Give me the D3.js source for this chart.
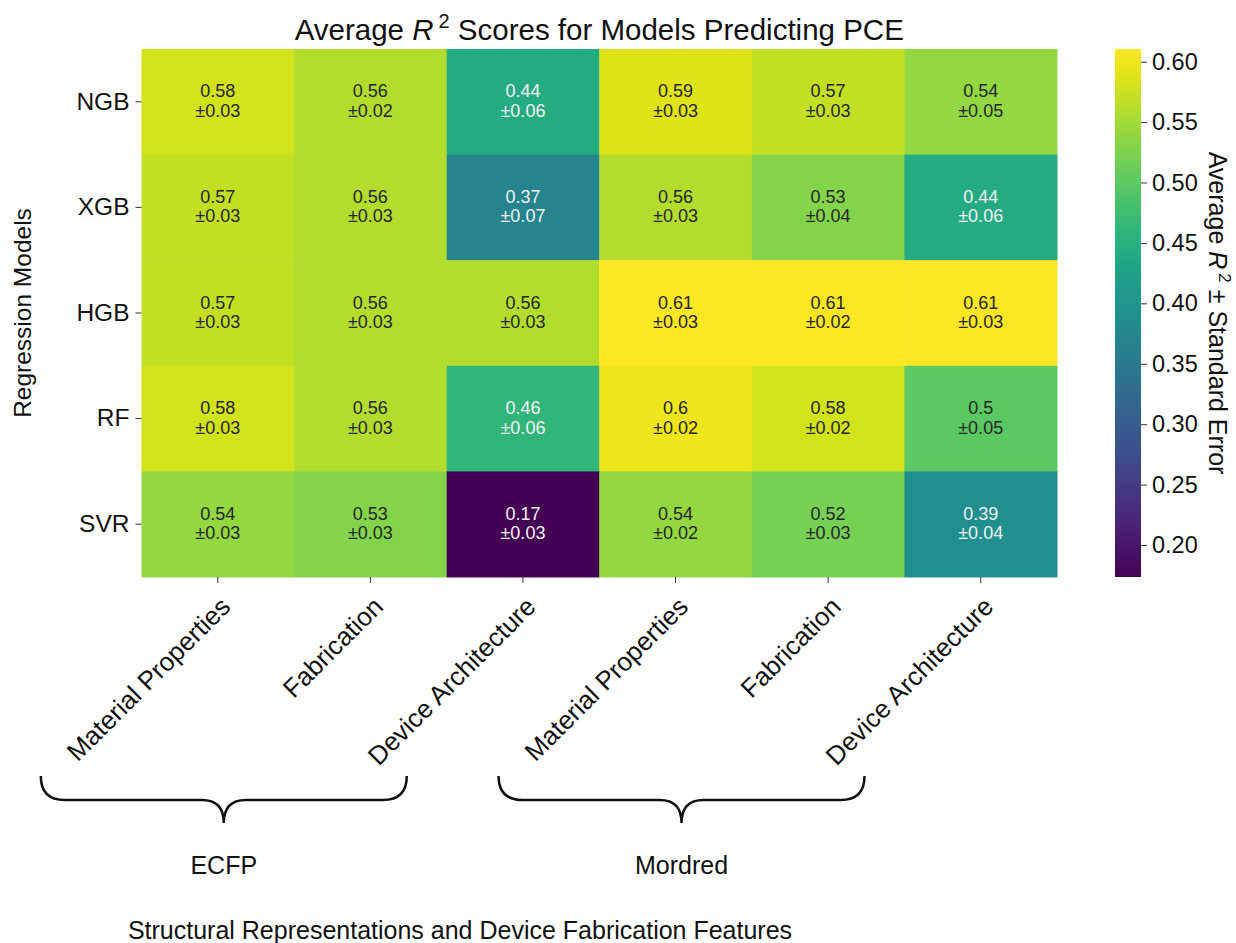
<!DOCTYPE html>
<html>
<head>
<meta charset="utf-8">
<script src="https://cdn.jsdelivr.net/npm/d3@7"></script>
<style>
  body { margin: 0; background: #fff; }
  svg text { font-family: "Liberation Sans", Arial, sans-serif; }
</style>
</head>
<body>
<div id="chart"></div>
<script>
const width = 1236;
const height = 943;

// Data
const models = ["NGB", "XGB", "HGB", "RF", "SVR"];
const features = ["Material Properties", "Fabrication", "Device Architecture",
                  "Material Properties", "Fabrication", "Device Architecture"];
const groups = ["ECFP", "Mordred"];
const meanR2 = [
  [0.58, 0.56, 0.44, 0.59, 0.57, 0.54],
  [0.57, 0.56, 0.37, 0.56, 0.53, 0.44],
  [0.57, 0.56, 0.56, 0.61, 0.61, 0.61],
  [0.58, 0.56, 0.46, 0.60, 0.58, 0.50],
  [0.54, 0.53, 0.17, 0.54, 0.52, 0.39]
];
const stdErr = [
  [0.03, 0.02, 0.06, 0.03, 0.03, 0.05],
  [0.03, 0.03, 0.07, 0.03, 0.04, 0.06],
  [0.03, 0.03, 0.03, 0.03, 0.02, 0.03],
  [0.03, 0.03, 0.06, 0.02, 0.02, 0.05],
  [0.03, 0.03, 0.03, 0.02, 0.03, 0.04]
];
const labelText = [
  ["0.58", "0.56", "0.44", "0.59", "0.57", "0.54"],
  ["0.57", "0.56", "0.37", "0.56", "0.53", "0.44"],
  ["0.57", "0.56", "0.56", "0.61", "0.61", "0.61"],
  ["0.58", "0.56", "0.46", "0.6", "0.58", "0.5"],
  ["0.54", "0.53", "0.17", "0.54", "0.52", "0.39"]
];
const colorTicks = [0.20, 0.25, 0.30, 0.35, 0.40, 0.45, 0.50, 0.55, 0.60];

const margin = {left: 141.5, top: 49, right: 1057, bottom: 577};
const font = "Liberation Sans, Arial, sans-serif";

const svg = d3.select("#chart").append("svg")
    .attr("width", width)
    .attr("height", height);

const x = d3.scaleBand()
    .domain(d3.range(features.length))
    .range([margin.left, margin.right]);

const y = d3.scaleBand()
    .domain(models)
    .range([margin.top, margin.bottom]);

const color = d3.scaleSequential(d3.interpolateViridis)
    .domain([0.1735, 0.6105]);

function luminance(c) {
    const rgb = d3.rgb(c);
    const f = v => {
        v = v / 255;
        return v <= 0.03928 ? v / 12.92 : Math.pow((v + 0.055) / 1.055, 2.4);
    };
    return 0.2126 * f(rgb.r) + 0.7152 * f(rgb.g) + 0.0722 * f(rgb.b);
}

// cells
const cells = [];
models.forEach((m, i) => {
    features.forEach((f, j) => {
        cells.push({model: m, col: j, value: meanR2[i][j], err: stdErr[i][j], label: labelText[i][j]});
    });
});

const cellG = svg.append("g");
cellG.selectAll("rect")
    .data(cells)
    .join("rect")
    .attr("x", d => x(d.col))
    .attr("y", d => y(d.model))
    .attr("width", x.bandwidth() + 0.5)
    .attr("height", y.bandwidth() + 0.5)
    .attr("fill", d => color(d.value));

const annot = cellG.selectAll("text")
    .data(cells)
    .join("text")
    .attr("text-anchor", "middle")
    .attr("font-size", 18)
    .attr("fill", d => luminance(color(d.value)) < 0.408 ? "#f2f2f2" : "#262626");
annot.append("tspan")
    .attr("x", d => x(d.col) + x.bandwidth() / 2)
    .attr("y", d => y(d.model) + y.bandwidth() / 2 - 4.5)
    .text(d => d.label);
annot.append("tspan")
    .attr("x", d => x(d.col) + x.bandwidth() / 2)
    .attr("y", d => y(d.model) + y.bandwidth() / 2 + 15)
    .text(d => "\u00b1" + d.err.toFixed(2));

// y axis
const yAxis = svg.append("g")
    .attr("transform", `translate(${margin.left},0)`)
    .call(d3.axisLeft(y).tickSize(6).tickPadding(6));
yAxis.select(".domain").remove();
yAxis.selectAll(".tick line").attr("stroke", "#333").attr("stroke-width", 1);
yAxis.selectAll(".tick text")
    .attr("font-size", 24.5)
    .attr("fill", "#111")
    .attr("font-family", font);

// x axis
const xAxis = svg.append("g")
    .attr("transform", `translate(0,${margin.bottom})`)
    .call(d3.axisBottom(x).tickSize(6).tickFormat(i => features[i]));
xAxis.select(".domain").remove();
xAxis.selectAll(".tick line").attr("stroke", "#333").attr("stroke-width", 1);
xAxis.selectAll(".tick text")
    .attr("font-size", 26)
    .attr("fill", "#111")
    .attr("font-family", font)
    .attr("text-anchor", "end")
    .attr("y", 0)
    .attr("dy", "0.72em")
    .attr("transform", "translate(1,18) rotate(-45)");

// title
const title = svg.append("text")
    .attr("x", (margin.left + margin.right) / 2)
    .attr("y", 40)
    .attr("text-anchor", "middle")
    .attr("font-size", 29.5)
    .attr("fill", "#111");
title.append("tspan").text("Average ");
title.append("tspan").attr("font-style", "italic").text("R");
title.append("tspan").attr("font-size", 20).attr("dy", -12).attr("dx", 5).text("2");
title.append("tspan").attr("dy", 12).text(" Scores for Models Predicting PCE");

// y label
svg.append("text")
    .attr("transform", `translate(31,${(margin.top + margin.bottom) / 2}) rotate(-90)`)
    .attr("text-anchor", "middle")
    .attr("font-size", 24.5)
    .attr("fill", "#111")
    .text("Regression Models");

// colorbar
const cb = {x: 1115, w: 26};
const cbScale = d3.scaleLinear()
    .domain(color.domain())
    .range([margin.bottom, margin.top]);

const defs = svg.append("defs");
const grad = defs.append("linearGradient")
    .attr("id", "viridis-grad")
    .attr("x1", 0).attr("y1", 1).attr("x2", 0).attr("y2", 0);
d3.range(0, 1.0001, 0.05).forEach(t => {
    grad.append("stop")
        .attr("offset", t)
        .attr("stop-color", d3.interpolateViridis(t));
});
svg.append("rect")
    .attr("x", cb.x)
    .attr("y", margin.top)
    .attr("width", cb.w)
    .attr("height", margin.bottom - margin.top)
    .attr("fill", "url(#viridis-grad)");

const cbAxis = svg.append("g")
    .attr("transform", `translate(${cb.x + cb.w},0)`)
    .call(d3.axisRight(cbScale).tickValues(colorTicks).tickFormat(d3.format(".2f")).tickSize(6).tickPadding(5));
cbAxis.select(".domain").remove();
cbAxis.selectAll(".tick line").attr("stroke", "#333");
cbAxis.selectAll(".tick text")
    .attr("font-size", 23.5)
    .attr("fill", "#111")
    .attr("font-family", font);

const cbLabel = svg.append("text")
    .attr("transform", `translate(1209,${(margin.top + margin.bottom) / 2}) rotate(90)`)
    .attr("text-anchor", "middle")
    .attr("font-size", 25)
    .attr("fill", "#111");
cbLabel.append("tspan").text("Average ");
cbLabel.append("tspan").attr("font-style", "italic").text("R");
cbLabel.append("tspan").attr("font-size", 17).attr("dy", -10).attr("dx", 4).text("2");
cbLabel.append("tspan").attr("dy", 10).text(" \u00b1 Standard Error");

// group braces
function bracePath(x0, x1, xm, yTop, yFlat, yTip) {
    const r = 24, r2 = 22;
    return `M${x0},${yTop} Q${x0},${yFlat} ${x0 + r},${yFlat} L${xm - r2},${yFlat} ` +
           `Q${xm},${yFlat} ${xm},${yTip} Q${xm},${yFlat} ${xm + r2},${yFlat} ` +
           `L${x1 - r},${yFlat} Q${x1},${yFlat} ${x1},${yTop}`;
}
const braceData = groups.map((g, k) => {
    const mid = x(k * 3) + x.bandwidth() / 2 + 6;
    return {name: g, mid: mid, x0: mid - 183, x1: mid + 183};
});
svg.append("g").selectAll("path")
    .data(braceData)
    .join("path")
    .attr("d", d => bracePath(d.x0, d.x1, d.mid, 776, 800, 823))
    .attr("fill", "none")
    .attr("stroke", "#111")
    .attr("stroke-width", 2.5);
svg.append("g").selectAll("text")
    .data(braceData)
    .join("text")
    .attr("x", d => d.mid)
    .attr("y", 874)
    .attr("text-anchor", "middle")
    .attr("font-size", 25)
    .attr("fill", "#111")
    .text(d => d.name);

// x label
svg.append("text")
    .attr("x", 460)
    .attr("y", 939)
    .attr("text-anchor", "middle")
    .attr("font-size", 25)
    .attr("fill", "#111")
    .text("Structural Representations and Device Fabrication Features");
</script>
</body>
</html>
